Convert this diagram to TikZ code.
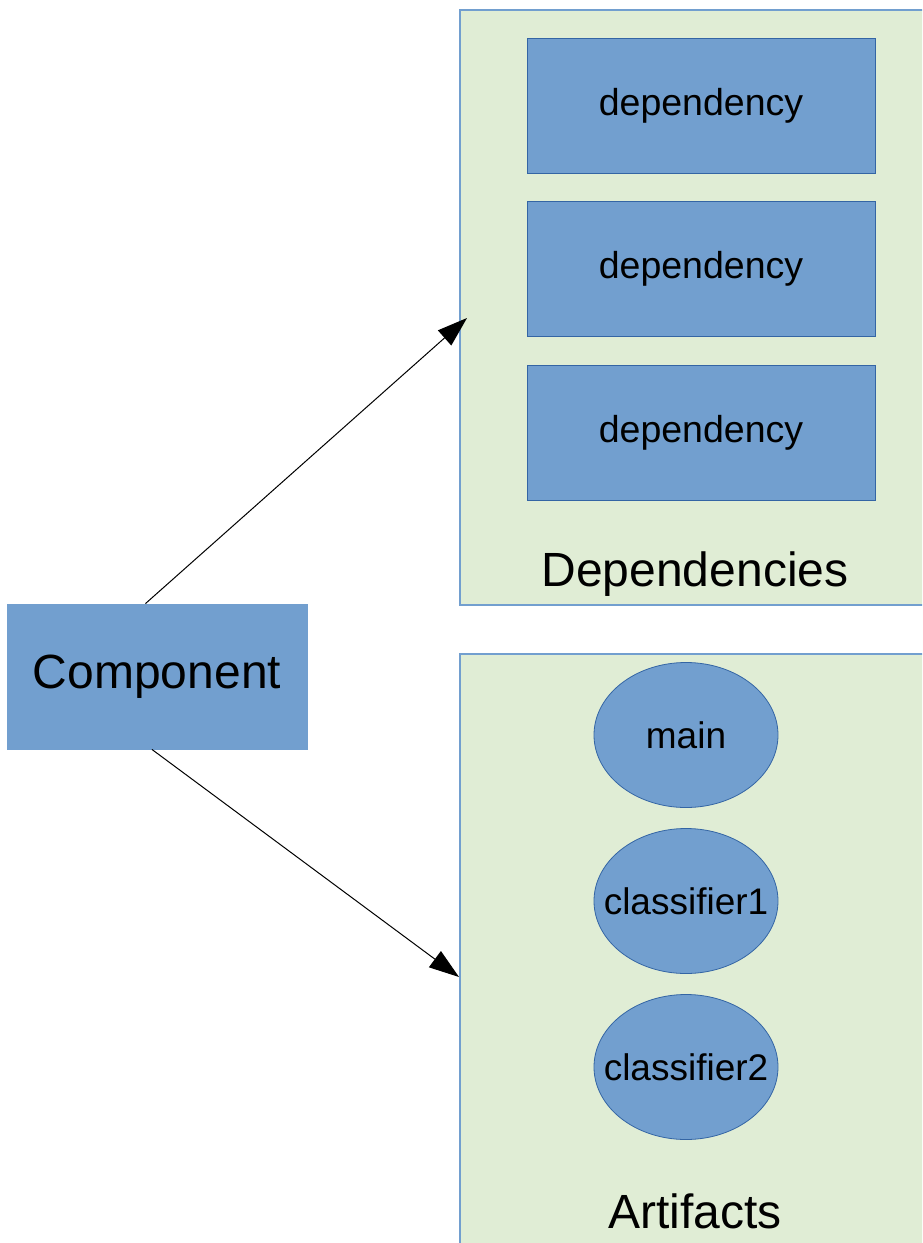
\documentclass[tikz,border=0pt]{standalone}
\usepackage{fontspec}
\setmainfont{Liberation Sans}
\usetikzlibrary{arrows.meta,shapes.geometric}
\definecolor{boxblue}{HTML}{729FCF}
\definecolor{boxline}{HTML}{3465A4}
\definecolor{panelgreen}{HTML}{E0EDD5}
\definecolor{panelline}{HTML}{729FCF}
\tikzset{
  panel/.style={draw=panelline, fill=panelgreen, line width=1.2pt, rectangle, inner sep=0pt},
  depbox/.style={draw=boxline, fill=boxblue, line width=0.8pt, rectangle, minimum width=348pt, minimum height=135pt, inner sep=0pt, font=\fontsize{37.5}{42}\selectfont},
  artell/.style={draw=boxline, fill=boxblue, line width=0.8pt, ellipse, minimum width=184pt, minimum height=145pt, inner sep=0pt, font=\fontsize{37}{42}\selectfont},
  compbox/.style={draw=boxblue, fill=boxblue, line width=0.8pt, rectangle, minimum width=300pt, minimum height=145pt, inner sep=0pt, font=\fontsize{48}{52}\selectfont},
  bigtext/.style={inner sep=0pt, font=\fontsize{48}{52}\selectfont},
  conn/.style={draw=black, line width=1pt, -{Triangle[length=30pt,width=20pt]}}
}
\begin{document}
\begin{tikzpicture}[x=1pt,y=-1pt]
\clip (0,0) rectangle (922,1243);
\fill[white] (0,0) rectangle (922,1243);
% panels
\node[panel, minimum width=470pt, minimum height=595pt] (deps) at (695,307.5) {};
\node[panel, minimum width=470pt, minimum height=600pt] (arts) at (695,954) {};
% dependency boxes
\node[depbox] (d1) at (701,105.5) {dependency};
\node[depbox] (d2) at (701,269) {dependency};
\node[depbox] (d3) at (701,432.5) {dependency};
\node[bigtext, anchor=base] (deplabel) at (695,586) {Dependencies};
% artifacts
\node[artell] (main) at (686,735) {\makebox[0pt]{main}};
\node[artell] (cl1) at (686,901) {\makebox[0pt]{classifier1}};
\node[artell] (cl2) at (686,1067) {\makebox[0pt]{classifier2}};
\node[bigtext, anchor=base] (artlabel) at (695,1228) {Artifacts};
% component
\node[compbox] (comp) at (157,676.5) {Component};
% connector ends
\coordinate (t1) at (467,318);
\coordinate (t2) at (459,977);
\draw[conn] (comp.99) -- (t1);
\draw[conn] (comp.266) -- (t2);
\end{tikzpicture}
\end{document}
